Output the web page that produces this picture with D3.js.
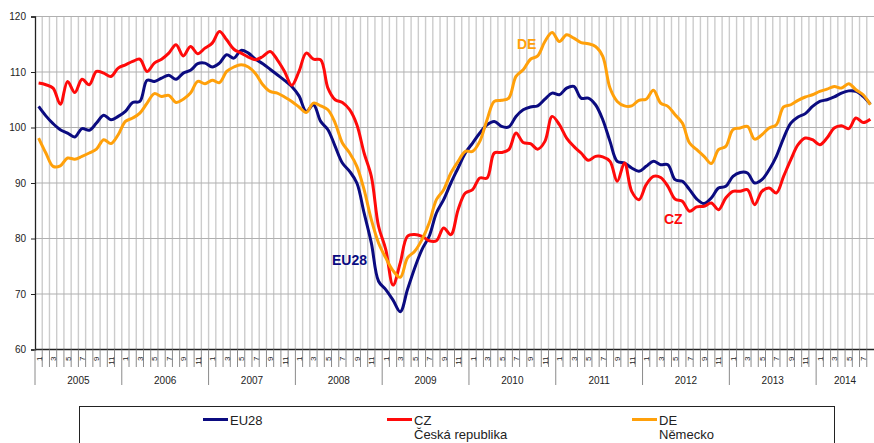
<!DOCTYPE html>
<html>
<head>
<title>EU28 CZ DE</title>
<script src="https://d3js.org/d3.v7.min.js"></script>
<style>
body,html {
  margin: 0;
  padding: 0;
  background: #fff;
}
svg {
  display: block;
  font-family: Arial, "Liberation Sans", sans-serif;
}
</style>
</head>
<body>

<svg id="chart" width="874" height="443"></svg>

<script>

// category axis: months Jan 2005 .. Aug 2014
const years = [2005, 2006, 2007, 2008, 2009, 2010, 2011, 2012, 2013, 2014];
const monthsPerYear = [12, 12, 12, 12, 12, 12, 12, 12, 12, 8];
const yTicks = [60, 70, 80, 90, 100, 110, 120];

const eu28 = [
  103.8, 102.1, 100.7, 99.6, 99.0, 98.3, 99.8, 99.5, 100.8, 102.2, 101.4, 102.0,
  102.9, 104.5, 104.7, 108.5, 108.3, 108.9, 109.4, 108.7, 109.8, 110.3, 111.5, 111.6,
  110.9, 111.6, 113.1, 112.5, 113.9, 113.4, 112.3, 111.5, 110.5, 109.5, 108.5, 107.4,
  105.7, 102.9, 104.1, 101.1, 99.6, 96.6, 93.6, 92.1, 90.0, 84.6, 79.2, 72.3,
  70.8, 68.9, 66.8, 70.8, 74.7, 78.0, 80.4, 84.6, 87.0, 90.0, 92.7, 95.4,
  97.2, 99.0, 100.5, 101.1, 100.2, 100.1, 102.0, 103.2, 103.7, 103.9, 105.1, 106.2,
  105.9, 107.1, 107.4, 105.3, 105.3, 104.1, 101.4, 97.5, 93.9, 93.6, 92.7, 92.1,
  93.0, 93.9, 93.3, 93.3, 90.6, 90.3, 88.8, 87.1, 86.3, 87.3, 89.1, 89.4,
  91.2, 91.9, 91.8, 90.0, 90.6, 92.4, 94.8, 98.1, 100.8, 101.9, 102.5, 103.8,
  104.7, 105.0, 105.5, 106.2, 106.6, 106.5, 105.6, 104.2
];

const cz = [
  108.0, 107.7, 107.1, 104.2, 108.3, 106.3, 108.7, 107.7, 110.1, 109.8, 109.2, 110.7,
  111.3, 111.9, 112.3, 110.1, 111.6, 112.3, 113.4, 114.9, 112.9, 114.6, 113.3, 114.3,
  115.2, 117.3, 115.8, 114.1, 113.4, 112.7, 112.2, 112.8, 113.7, 112.2, 110.1, 107.6,
  110.1, 113.4, 112.3, 112.2, 107.1, 105.0, 104.5, 103.2, 100.5, 95.4, 91.2, 82.2,
  78.0, 71.6, 75.6, 80.4, 80.7, 80.4, 79.6, 79.6, 81.9, 80.7, 85.2, 88.2,
  88.8, 90.9, 90.9, 95.4, 95.5, 96.0, 99.0, 97.3, 97.1, 96.1, 97.5, 102.0,
  100.5, 98.1, 96.6, 95.4, 94.1, 94.8, 94.7, 93.9, 90.3, 93.6, 88.5, 87.0,
  89.7, 91.2, 91.0, 89.4, 87.1, 86.7, 84.9, 85.7, 85.8, 86.4, 85.2, 87.3,
  88.5, 88.5, 88.8, 86.1, 88.5, 89.1, 88.2, 91.2, 94.2, 96.9, 98.1, 97.8,
  96.9, 98.1, 99.9, 100.3, 99.8, 101.7, 100.9, 101.5
];

const de = [
  98.1, 95.4, 93.0, 93.1, 94.5, 94.3, 94.8, 95.4, 96.1, 97.8, 97.1, 98.7,
  101.1, 101.7, 102.6, 104.4, 106.1, 105.6, 105.8, 104.5, 105.1, 106.2, 108.3, 107.9,
  108.5, 108.1, 110.1, 110.9, 111.3, 110.9, 109.7, 107.7, 106.5, 106.2, 105.5, 104.7,
  103.7, 102.7, 104.4, 103.9, 103.2, 100.8, 97.2, 95.4, 93.0, 88.8, 83.4, 79.2,
  76.5, 74.2, 73.0, 76.5, 77.7, 79.8, 82.8, 87.0, 88.8, 91.8, 93.9, 95.7,
  95.7, 97.5, 101.4, 104.7, 104.9, 105.3, 109.2, 110.4, 112.3, 112.9, 115.5, 117.1,
  115.5, 116.7, 116.1, 115.3, 115.1, 114.6, 112.8, 107.1, 104.7, 103.9, 103.9, 104.9,
  105.1, 106.7, 104.4, 103.8, 102.3, 100.8, 97.2, 96.0, 94.8, 93.5, 96.0, 96.6,
  99.6, 99.9, 100.2, 97.9, 98.7, 99.9, 100.5, 103.7, 104.1, 104.9, 105.5, 105.9,
  106.5, 106.9, 107.4, 107.1, 107.9, 106.8, 105.9, 104.1
];

const series = [
  { name: "EU28", sub: "", values: eu28, color: "#0b0b80", tag: "EU28", tx: 332, ty: 265 },
  { name: "CZ", sub: "Česká republika", values: cz, color: "#ff0a0a", tag: "CZ", tx: 664, ty: 224 },
  { name: "DE", sub: "Německo", values: de, color: "#ffa00a", tag: "DE", tx: 517, ty: 49 }
];

main();

function main() {
  const svg = d3.select("#chart");

  let categories = [];
  years.forEach(function(y, k) {
    for (let m = 1; m <= monthsPerYear[k]; m++) {
      categories.push({ key: y + "-" + m, year: y, month: m });
    }
  });

  const left = 35, right = 874, top = 16.5, bottom = 349.5;

  let xScale = d3.scaleBand()
                 .domain(categories.map(d => d.key))
                 .range([left, right])
                 .padding(0);
  const bw = xScale.bandwidth();

  let yScale = d3.scaleLinear()
                 .domain([60, 120])
                 .range([bottom, top]);

  // vertical gridlines at month boundaries
  svg.append("g")
     .selectAll("line")
     .data(categories.slice(1))
     .join("line")
       .attr("x1", d => xScale(d.key))
       .attr("x2", d => xScale(d.key))
       .attr("y1", top)
       .attr("y2", bottom)
       .attr("stroke", "#cccccc")
       .attr("stroke-width", 1.4);

  // horizontal gridlines
  svg.append("g")
     .selectAll("line")
     .data(yTicks.slice(1))
     .join("line")
       .attr("x1", left)
       .attr("x2", right)
       .attr("y1", d => yScale(d))
       .attr("y2", d => yScale(d))
       .attr("stroke", "#b0b0b0")
       .attr("stroke-width", 1.2);

  // y axis
  let yAxis = d3.axisLeft(yScale)
                .tickValues(yTicks)
                .tickSize(4)
                .tickPadding(5);

  let gy = svg.append("g")
     .attr("transform", "translate(" + left + ",0)")
     .call(yAxis);
  gy.select(".domain").attr("stroke", "#222").attr("stroke-width", 1.3);
  gy.selectAll(".tick line").attr("stroke", "#222");
  gy.selectAll(".tick text")
     .style("font-size", "10px")
     .style("font-family", "Arial, 'Liberation Sans', sans-serif")
     .attr("fill", "#222");

  // x axis line
  svg.append("line")
     .attr("x1", left).attr("x2", right)
     .attr("y1", bottom).attr("y2", bottom)
     .attr("stroke", "#222")
     .attr("stroke-width", 1.3);

  // month tick separators
  svg.append("g")
     .selectAll("line")
     .data(categories.filter(d => d.month !== 1))
     .join("line")
       .attr("x1", d => xScale(d.key))
       .attr("x2", d => xScale(d.key))
       .attr("y1", bottom)
       .attr("y2", 367)
       .attr("stroke", "#8a8a8a")
       .attr("stroke-width", 1);

  // year separators
  svg.append("g")
     .selectAll("line")
     .data(categories.filter(d => d.month === 1))
     .join("line")
       .attr("x1", d => xScale(d.key))
       .attr("x2", d => xScale(d.key))
       .attr("y1", bottom)
       .attr("y2", 385)
       .attr("stroke", "#8a8a8a")
       .attr("stroke-width", 1);

  // month labels (odd months only), rotated
  svg.append("g")
     .selectAll("text")
     .data(categories.filter(d => d.month % 2 === 1))
     .join("text")
       .attr("transform", d => "translate(" + (xScale(d.key) + bw / 2 + 3) + ",356.5) rotate(-90)")
       .attr("text-anchor", "end")
       .style("font-size", "8px")
       .attr("fill", "#222")
       .text(d => d.month);

  // year labels
  svg.append("g")
     .selectAll("text")
     .data(years)
     .join("text")
       .attr("x", function(y, k) {
         const first = xScale(y + "-1");
         return first + monthsPerYear[k] * bw / 2;
       })
       .attr("y", 384)
       .attr("text-anchor", "middle")
       .style("font-size", "10px")
       .attr("fill", "#222")
       .text(d => d);

  // data lines
  let dataLine = d3.line()
                   .x((d, i) => xScale(categories[i].key) + bw / 2)
                   .y(d => yScale(d))
                   .curve(d3.curveCatmullRom.alpha(0.5));

  series.forEach(function(s) {
    svg.append("path")
       .attr("fill", "none")
       .attr("stroke", s.color)
       .attr("stroke-width", 3)
       .attr("stroke-linejoin", "round")
       .attr("d", dataLine(s.values));
  });

  // inline series tags
  series.forEach(function(s) {
    svg.append("text")
       .attr("x", s.tx)
       .attr("y", s.ty)
       .attr("fill", s.color)
       .style("font-size", "14px")
       .style("font-weight", "bold")
       .text(s.tag);
  });

  // legend
  svg.append("rect")
     .attr("x", 79.5)
     .attr("y", 406.5)
     .attr("width", 755)
     .attr("height", 60)
     .attr("fill", "none")
     .attr("stroke", "#222")
     .attr("stroke-width", 1);

  const legendX = [203, 387, 632];
  series.forEach(function(s, k) {
    let g = svg.append("g");
    g.append("line")
       .attr("x1", legendX[k]).attr("x2", legendX[k] + 25)
       .attr("y1", 419.5).attr("y2", 419.5)
       .attr("stroke", s.color)
       .attr("stroke-width", 3);
    g.append("text")
       .attr("x", legendX[k] + 27)
       .attr("y", 424.5)
       .style("font-size", "13px")
       .attr("fill", "#222")
       .text(s.name);
    if (s.sub) {
      g.append("text")
         .attr("x", legendX[k] + 27)
         .attr("y", 438.5)
         .style("font-size", "13px")
         .attr("fill", "#222")
         .text(s.sub);
    }
  });
}

</script>

</body>
</html>
